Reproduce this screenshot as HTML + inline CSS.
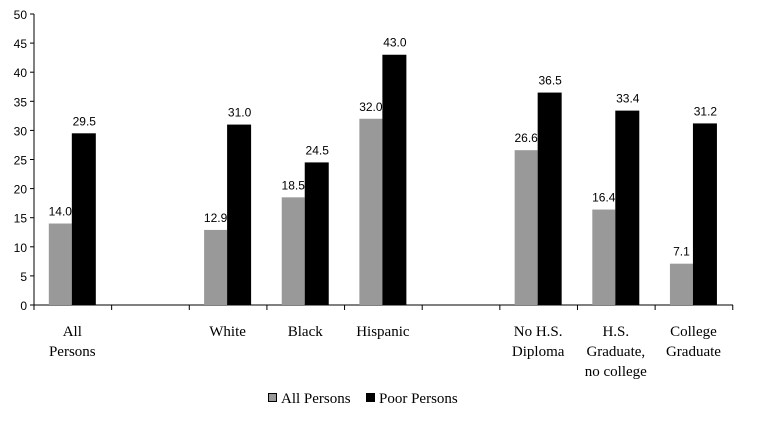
<!DOCTYPE html><html><head><style>
body{margin:0;background:#fff}
svg text{font-family:"Liberation Serif",serif;font-size:15px;fill:#000}
svg text.n{font-family:"Liberation Sans",sans-serif;font-size:12px}
</style></head><body>
<svg width="760" height="429" xmlns="http://www.w3.org/2000/svg">
<g id="g"></g>
</svg>
<script>
const g=document.getElementById('g');let s='';
const y0=305,k=5.82,x0=34,w=77.64;
s+=`<line x1="${x0}" y1="14" x2="${x0}" y2="${y0}" stroke="#000"/>`;
s+=`<line x1="${x0}" y1="${y0}" x2="733" y2="${y0}" stroke="#000"/>`;
for(let v=0;v<=50;v+=5){const y=y0-v*k;s+=`<line x1="${x0-4}" y1="${y}" x2="${x0}" y2="${y}" stroke="#000"/><text class="n" x="${x0-7}" y="${y+5}" text-anchor="end">${v}</text>`;}
for(let i=0;i<=9;i++){const x=x0+i*w;s+=`<line x1="${x}" y1="${y0}" x2="${x}" y2="${y0+5}" stroke="#000"/>`;}
const d=[[14.0,29.5,["All","Persons"]],null,[12.9,31.0,["White"]],[18.5,24.5,["Black"]],[32.0,43.0,["Hispanic"]],null,[26.6,36.5,["No H.S.","Diploma"]],[16.4,33.4,["H.S.","Graduate,","no college"]],[7.1,31.2,["College","Graduate"]]];
d.forEach((e,i)=>{if(!e)return;const xs=x0+i*w,c=xs+w/2-0.5;
const a=e[0]*k,b=e[1]*k;
s+=`<rect x="${c-23.5}" y="${y0-a}" width="23" height="${a}" fill="#999"/>`;
s+=`<rect x="${c-0.5}" y="${y0-b}" width="24" height="${b}" fill="#000"/>`;
s+=`<text class="n" x="${c-12}" y="${y0-a-8}" text-anchor="middle">${e[0].toFixed(1)}</text>`;
s+=`<text class="n" x="${c+12}" y="${y0-b-8}" text-anchor="middle">${e[1].toFixed(1)}</text>`;
e[2].forEach((t,j)=>{s+=`<text x="${c}" y="${336+j*20}" text-anchor="middle">${t}</text>`;});
});
s+=`<rect x="268.5" y="393.5" width="8" height="8" fill="#999" stroke="#000"/><text x="281" y="403">All Persons</text>`;
s+=`<rect x="366.5" y="393.5" width="8" height="8" fill="#000" stroke="#000"/><text x="379" y="403">Poor Persons</text>`;
g.innerHTML=s;
</script>
</body></html>
